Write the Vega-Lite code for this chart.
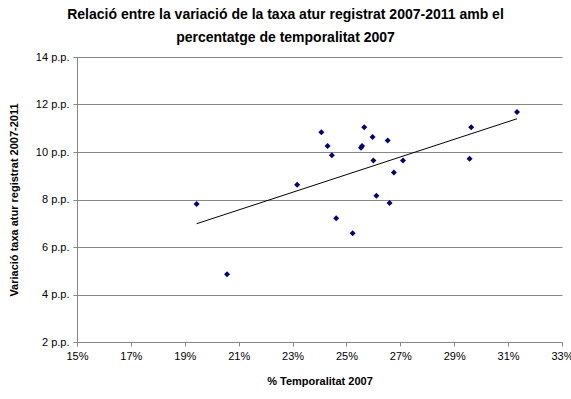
{
  "$schema": "https://vega.github.io/schema/vega-lite/v6.json",
  "width": 485,
  "height": 285,
  "autosize": {"type": "none"},
  "padding": {"left": 77, "top": 57, "right": 9, "bottom": 57},
  "background": "white",
  "config": {
    "view": {"stroke": null},
    "font": "Liberation Sans",
    "axis": {
      "labelFont": "Liberation Sans",
      "titleFont": "Liberation Sans",
      "labelFontSize": 11,
      "labelColor": "#000000",
      "titleFontSize": 11,
      "titleFontWeight": "bold",
      "titleColor": "#000000",
      "domainColor": "#868686",
      "tickColor": "#868686",
      "gridColor": "#868686",
      "tickSize": 4,
      "labelPadding": 4,
      "labelFlush": false
    }
  },
  "title": {
    "text": ["Relació entre la variació de la taxa atur registrat 2007-2011 amb el", "percentatge de temporalitat 2007"],
    "font": "Liberation Sans",
    "fontSize": 14,
    "fontWeight": "bold",
    "color": "#000000",
    "anchor": "middle",
    "lineHeight": 23,
    "offset": 6,
    "dx": -34
  },
  "datasets": {
    "points": [
      {"temporalitat": 0.1944, "variacio": 7.81},
      {"temporalitat": 0.2057, "variacio": 4.85},
      {"temporalitat": 0.2317, "variacio": 8.62},
      {"temporalitat": 0.2407, "variacio": 10.83},
      {"temporalitat": 0.2430, "variacio": 10.25},
      {"temporalitat": 0.2446, "variacio": 9.86},
      {"temporalitat": 0.2462, "variacio": 7.21},
      {"temporalitat": 0.2523, "variacio": 6.58},
      {"temporalitat": 0.2554, "variacio": 10.18},
      {"temporalitat": 0.2558, "variacio": 10.25},
      {"temporalitat": 0.2566, "variacio": 11.04},
      {"temporalitat": 0.2597, "variacio": 10.63},
      {"temporalitat": 0.2600, "variacio": 9.64},
      {"temporalitat": 0.2611, "variacio": 8.16},
      {"temporalitat": 0.2653, "variacio": 10.48},
      {"temporalitat": 0.2660, "variacio": 7.85},
      {"temporalitat": 0.2676, "variacio": 9.14},
      {"temporalitat": 0.2710, "variacio": 9.64},
      {"temporalitat": 0.2957, "variacio": 9.72},
      {"temporalitat": 0.2963, "variacio": 11.04},
      {"temporalitat": 0.3133, "variacio": 11.68}
    ],
    "trend": [
      {"temporalitat": 0.1944, "variacio": 6.98},
      {"temporalitat": 0.3133, "variacio": 11.40}
    ]
  },
  "layer": [
    {
      "data": {"name": "points"},
      "mark": {"type": "point", "shape": "diamond", "filled": true, "size": 36, "color": "#000080", "opacity": 1},
      "encoding": {
        "x": {
          "field": "temporalitat", "type": "quantitative",
          "scale": {"domain": [0.15, 0.33], "nice": false, "zero": false},
          "axis": {
            "title": "% Temporalitat 2007",
            "format": ".0%",
            "values": [0.15, 0.17, 0.19, 0.21, 0.23, 0.25, 0.27, 0.29, 0.31, 0.33],
            "grid": false,
            "titlePadding": 14
          }
        },
        "y": {
          "field": "variacio", "type": "quantitative",
          "scale": {"domain": [2, 14], "nice": false, "zero": false},
          "axis": {
            "title": "Variació taxa atur registrat 2007-2011",
            "values": [2, 4, 6, 8, 10, 12, 14],
            "labelExpr": "datum.value + ' p.p.'",
            "grid": true,
            "titlePadding": 16
          }
        }
      }
    },
    {
      "data": {"name": "trend"},
      "mark": {"type": "line", "color": "#000000", "strokeWidth": 1},
      "encoding": {
        "x": {"field": "temporalitat", "type": "quantitative"},
        "y": {"field": "variacio", "type": "quantitative"}
      }
    }
  ]
}
